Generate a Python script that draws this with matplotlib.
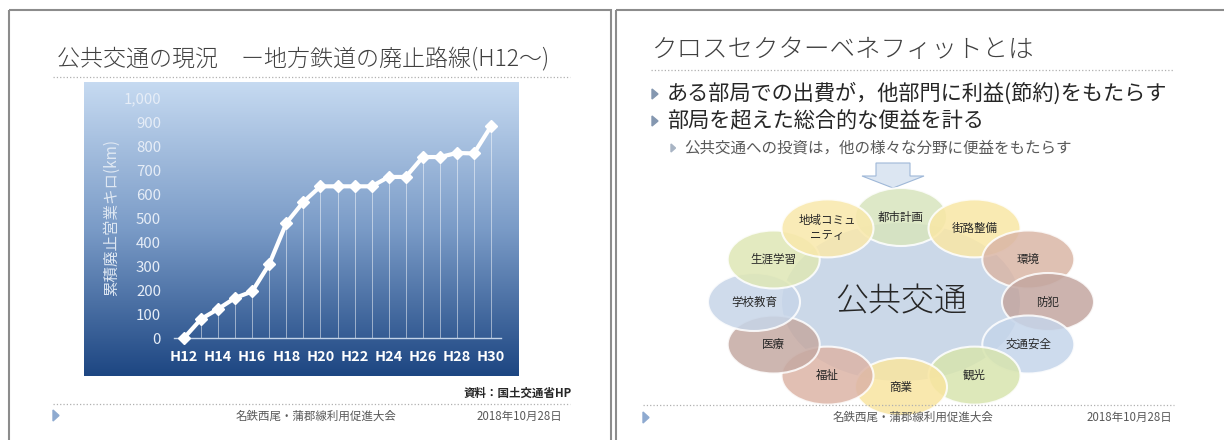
import numpy as np
import matplotlib
matplotlib.use("Agg")
from matplotlib import pyplot as plt
from matplotlib.colors import LinearSegmentedColormap
from matplotlib.patches import Ellipse, Rectangle, Polygon

plt.rcParams['font.family'] = ['Noto Sans CJK JP', 'DejaVu Sans']

W, H = 1224, 440

# --- left slide: abolished regional railway lines (cumulative km) ---
years = ["H12", "H13", "H14", "H15", "H16", "H17", "H18", "H19", "H20", "H21",
         "H22", "H23", "H24", "H25", "H26", "H27", "H28", "H29", "H30"]
closed_km = [0, 79, 121, 167, 194, 308, 479, 567, 632, 632,
             632, 632, 671, 671, 754, 754, 771, 769, 882]
y_ticks = [0, 100, 200, 300, 400, 500, 600, 700, 800, 900, 1000]
chart_title = "公共交通の現況　ー地方鉄道の廃止路線(H12～)"
y_label = "累積廃止営業キロ(km)"
source_note = "資料：国土交通省HP"
footer_org = "名鉄西尾・蒲郡線利用促進大会"
footer_date = "2018年10月28日"

# --- right slide: cross sector benefit ---
slide2_title = "クロスセクターベネフィットとは"
bullets = ["ある部局での出費が，他部門に利益(節約)をもたらす",
           "部局を超えた総合的な便益を計る"]
sub_bullet = "公共交通への投資は，他の様々な分野に便益をもたらす"
hub_label = "公共交通"
sectors = ["都市計画", "街路整備", "環境", "防犯", "交通安全", "観光",
           "商業", "福祉", "医療", "学校教育", "生涯学習", "地域コミュ\nニティ"]
sector_colors = ["#d7e4bd", "#f9e7a5", "#dab6a6", "#c3a6a0", "#c5d5ea", "#d7e4ae",
                 "#f9e5a0", "#dcb4a6", "#c5a9a2", "#c7d5e8", "#dfe7b5", "#f9e8ab"]


def fig_rect(x0, y0, x1, y1):
    # pixel box (top-left origin) -> figure fraction rect
    return [x0 / W, 1 - y1 / H, (x1 - x0) / W, (y1 - y0) / H]


def pt(px):
    return px * 0.72


fig = plt.figure(figsize=(W / 100, H / 100), dpi=100)
base = fig.add_axes([0, 0, 1, 1])
base.set_xlim(0, W)
base.set_ylim(H, 0)
base.axis('off')

# slide frames
base.add_patch(Rectangle((9, 10), 602, 440, fill=False, ec='#8c8c8c', lw=1.5))
base.add_patch(Rectangle((616, 10), 620, 440, fill=False, ec='#8c8c8c', lw=1.5))

text_dark = '#404040'
footer_col = '#595959'
dot_col = '#b0b0b0'

# ---------------- left slide ----------------
base.text(57, 60, chart_title, fontsize=pt(23), va='center', color=text_dark,
          fontweight='light')
base.plot([53, 570], [77, 77], ls=':', color=dot_col, lw=0.9)

base.text(572, 393, source_note, fontsize=pt(11.5), ha='right', va='center',
          color='#262626', fontweight='bold')
base.plot([53, 570], [404, 404], ls=':', color=dot_col, lw=0.9)
base.add_patch(Polygon([[53, 410], [59, 415.5], [53, 421]], color='#8eaad0'))
base.text(316, 416, footer_org, fontsize=pt(11.5), ha='center', va='center', color=footer_col)
base.text(562, 416, footer_date, fontsize=pt(11.5), ha='right', va='center', color=footer_col)

# gradient chart background
gax = fig.add_axes(fig_rect(84, 82, 518, 376))
grad = np.linspace(0, 1, 256).reshape(-1, 1)
cmap = LinearSegmentedColormap.from_list('bg', ['#c6daf1', '#7a9bc7', '#1d4682'])
gax.imshow(grad, aspect='auto', cmap=cmap, extent=[0, 1, 0, 1])
gax.axis('off')

pax = fig.add_axes(fig_rect(174, 98, 501, 338))
pax.patch.set_alpha(0)
x = np.arange(len(years))
pax.vlines(x, 0, closed_km, colors='white', lw=0.7, alpha=0.5)
pax.plot(x, closed_km, color='white', lw=3, marker='D', ms=6,
         clip_on=False, zorder=3)
pax.set_xlim(-0.586, 18.586)
pax.set_ylim(0, 1000)
for side in ['top', 'right', 'left']:
    pax.spines[side].set_visible(False)
pax.spines['bottom'].set_color('#c3d3e8')
pax.spines['bottom'].set_linewidth(1.0)
pax.set_xticks(x[::2])
pax.set_xticklabels(years[::2], fontsize=pt(14.5), fontweight='bold', color='white')
pax.set_yticks(y_ticks)
pax.set_yticklabels([f"{v:,}" for v in y_ticks], fontsize=pt(15), color='#e6edf7')
pax.tick_params(axis='x', length=0, pad=pt(12))
pax.tick_params(axis='y', length=0, pad=pt(13))
fig.text(112 / W, 1 - 218 / H, y_label, rotation=90, fontsize=pt(15.5), ha='center',
         va='center', color='#dfe8f3')

# ---------------- right slide ----------------
base.text(651, 50, slide2_title, fontsize=pt(25.5), va='center', color=text_dark,
          fontweight='light')
base.plot([651, 1174], [70, 70], ls=':', color=dot_col, lw=0.9)

for i, line in enumerate(bullets):
    yy = 94 + i * 27
    base.add_patch(Polygon([[652, yy - 5], [658, yy], [652, yy + 5]], color='#8497b0'))
    base.text(667, yy, line, fontsize=pt(21.2), va='center', color='#262626')
base.add_patch(Polygon([[671, 144], [675.5, 148], [671, 152]], color='#a8b4c4'))
base.text(684, 148, sub_bullet, fontsize=pt(15.5), va='center', color=footer_col)

# down arrow
base.add_patch(Polygon([[876, 163], [910, 163], [910, 176], [924, 176], [893, 188],
                        [862, 176], [876, 176]], fc='#dce6f2', ec='#9fb8d8', lw=0.8))

# hub + sector ellipses
cx, cy, rx, ry = 901, 302, 147, 85
base.add_patch(Ellipse((cx, cy), 240, 160, fc='#cbd8e8', ec='white', lw=1.5, zorder=2))
base.text(cx, cy, hub_label, fontsize=pt(33), ha='center', va='center',
          color='#262626', zorder=2.5, fontweight='light')
for k, (name, col) in enumerate(zip(sectors, sector_colors)):
    ang = np.deg2rad(90 - 30 * k)
    ex, ey = cx + rx * np.cos(ang), cy - ry * np.sin(ang)
    z = 3 + k * 0.1
    base.add_patch(Ellipse((ex, ey), 92, 58, fc=col, ec='white', lw=1.5,
                           alpha=0.85, zorder=z))
    base.text(ex, ey, name, fontsize=pt(11.5), ha='center', va='center',
              color='#262626', zorder=z + 0.05, linespacing=1.2)

base.plot([643, 1174], [405, 405], ls=':', color=dot_col, lw=0.9, zorder=5)
base.add_patch(Polygon([[643, 412], [649, 417.5], [643, 423]], color='#8eaad0'))
base.text(913, 417, footer_org, fontsize=pt(11.5), ha='center', va='center',
          color=footer_col, zorder=5)
base.text(1172, 417, footer_date, fontsize=pt(11.5), ha='right', va='center', color=footer_col)

fig.savefig("out.png", dpi=100)
